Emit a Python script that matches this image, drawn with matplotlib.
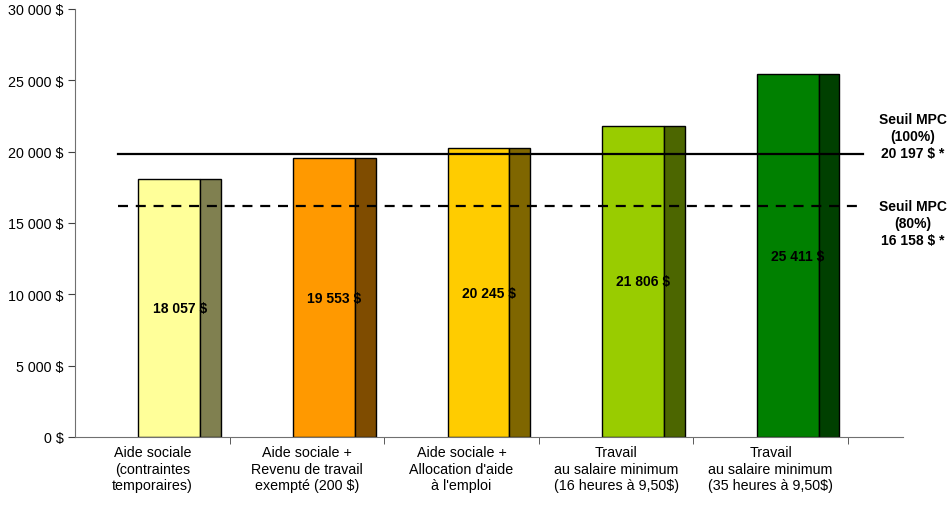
import numpy as np
import matplotlib.pyplot as plt

plt.rcParams['font.family'] = ['Liberation Sans', 'DejaVu Sans']

# data
categories = ['Aide sociale\n(contraintes\ntemporaires)',
              'Aide sociale +\nRevenu de travail\nexempté (200 $)',
              "Aide sociale +\nAllocation d'aide\nà l'emploi",
              'Travail\nau salaire minimum\n(16 heures à 9,50$)',
              'Travail\nau salaire minimum\n(35 heures à 9,50$)']
values = [18057, 19553, 20245, 21806, 25411]
value_labels = ['18 057 $', '19 553 $', '20 245 $', '21 806 $', '25 411 $']
front_colors = ['#FFFF99', '#FF9900', '#FFCC00', '#99CC00', '#008000']
side_colors = ['#808050', '#7F4C00', '#7F6600', '#4C6600', '#004000']

# threshold lines (as drawn) and their labels
seuil_levels = [19850, 16200]
seuil_labels = ['Seuil MPC\n(100%)\n20 197 $ *', 'Seuil MPC\n(80%)\n16 158 $ *']
seuil_label_y = [21100, 15000]

yticks = [0, 5000, 10000, 15000, 20000, 25000, 30000]
ytick_labels = ['0 $', '5 000 $', '10 000 $', '15 000 $', '20 000 $', '25 000 $', '30 000 $']

fig = plt.figure(figsize=(9.51, 5.06), dpi=100)
ax = fig.add_axes([75/951, 68/506, 828/951, 428/506])

x = np.arange(len(values))
front_w = 0.40
side_w = 0.135
left = x - 0.09
ax.bar(left, values, width=front_w, align='edge', color=front_colors,
       edgecolor='black', linewidth=1, zorder=2)
ax.bar(left + front_w, values, width=side_w, align='edge', color=side_colors,
       edgecolor='black', linewidth=1, zorder=2)

for i in range(len(values)):
    ax.text(left[i] + (front_w + side_w) / 2, values[i] / 2, value_labels[i],
            ha='center', va='center', fontsize=10, fontweight='bold', zorder=4)

# threshold lines
ax.plot([-0.222, 4.597], [seuil_levels[0]] * 2, color='black', lw=1.6, zorder=3)
ax.plot([-0.222, 4.565], [seuil_levels[1]] * 2, color='black', lw=1.6,
        linestyle=(0, (4.5, 3.5)), zorder=3)
for lab, yy in zip(seuil_labels, seuil_label_y):
    ax.text(1.012, yy, lab, transform=ax.get_yaxis_transform(), ha='center',
            va='center', fontsize=10, fontweight='bold', linespacing=1.25)

ax.set_xlim(-0.5, 4.856)
ax.set_ylim(0, 30000)
ax.set_yticks(yticks)
ax.set_yticklabels(ytick_labels, fontsize=10.3)
ax.set_xticks(x)
ax.set_xticklabels(categories, fontsize=10.3, linespacing=1.22)
ax.tick_params(axis='x', length=0, pad=6)
ax.set_xticks(np.arange(len(values)) + 0.5, minor=True)
ax.tick_params(axis='x', which='minor', length=5, color='#404040')
ax.tick_params(axis='y', length=5, color='#404040', pad=3)

for s in ['top', 'right']:
    ax.spines[s].set_visible(False)
for s in ['left', 'bottom']:
    ax.spines[s].set_color('#707070')

fig.savefig('out.png', dpi=100)
